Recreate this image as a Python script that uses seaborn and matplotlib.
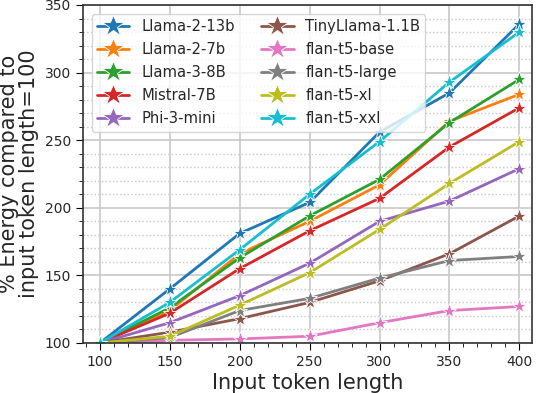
import matplotlib
matplotlib.use("Agg")
import matplotlib.pyplot as plt
import seaborn as sns
import pandas as pd
from matplotlib.ticker import MultipleLocator

token_lengths = [100, 150, 200, 250, 300, 350, 400]
models = ["Llama-2-13b", "Llama-2-7b", "Llama-3-8B", "Mistral-7B", "Phi-3-mini",
          "TinyLlama-1.1B", "flan-t5-base", "flan-t5-large", "flan-t5-xl", "flan-t5-xxl"]
llama2_13b = [100, 140, 181, 204, 256, 285, 336]
llama2_7b = [100, 124, 166, 190, 217, 264, 284]
llama3_8b = [100, 126, 163, 194, 221, 263, 295]
mistral_7b = [100, 122, 155, 183, 207, 245, 274]
phi3_mini = [100, 115, 135, 159, 190, 205, 229]
tinyllama = [100, 108, 118, 130, 146, 166, 194]
flan_base = [100, 102, 103, 105, 115, 124, 127]
flan_large = [100, 104, 124, 133, 148, 161, 164]
flan_xl = [100, 105, 128, 152, 184, 218, 249]
flan_xxl = [100, 130, 169, 210, 249, 293, 330]
series = [llama2_13b, llama2_7b, llama3_8b, mistral_7b, phi3_mini,
          tinyllama, flan_base, flan_large, flan_xl, flan_xxl]

rows = []
for m, vals in zip(models, series):
    for x, v in zip(token_lengths, vals):
        rows.append({"model": m, "x": x, "y": v})
df = pd.DataFrame(rows)

sns.set_style("ticks")
plt.rcParams['font.family'] = ['DejaVu Sans']

fig = plt.figure(figsize=(5.36, 3.93), dpi=100)
ax = fig.add_axes([83/536, 1-343/393, (532-83)/536, (343-5)/393])

palette = sns.color_palette("tab10", 10)
sns.lineplot(data=df, x="x", y="y", hue="model", style="model", hue_order=models,
             style_order=models, palette=palette, markers=["*"]*10, dashes=False,
             markersize=11, linewidth=2, markeredgewidth=0.6, ax=ax)

ax.set_xlim(88, 409)
ax.set_ylim(100, 350)
ax.set_xticks(token_lengths)
ax.set_yticks([100, 150, 200, 250, 300, 350])
ax.xaxis.set_minor_locator(MultipleLocator(10))
ax.yaxis.set_minor_locator(MultipleLocator(10))
ax.grid(True, which="major", color="#c8c8c8", linewidth=1.2)
ax.grid(True, which="minor", axis="y", color="#c8c8c8", linestyle=":", linewidth=1)
ax.set_axisbelow(True)
ax.tick_params(axis="both", which="major", labelsize=10, length=5, color="black")
ax.tick_params(axis="both", which="minor", length=3, color="black")
for s in ax.spines.values():
    s.set_color("#333333")
    s.set_linewidth(1.2)

ax.set_xlabel("Input token length", fontsize=15, labelpad=3)
ax.set_ylabel("% Energy compared to\ninput token length=100", fontsize=15,
              labelpad=4, linespacing=1.0)

leg = ax.legend(loc="upper left", ncol=2, fontsize=10.6, frameon=True,
                markerscale=1.5, handlelength=2.2, handletextpad=0.8,
                columnspacing=1.8, labelspacing=0.55, borderaxespad=0.6,
                borderpad=0.35)
leg.get_frame().set_alpha(0.8)

fig.savefig("out.png", dpi=100)
